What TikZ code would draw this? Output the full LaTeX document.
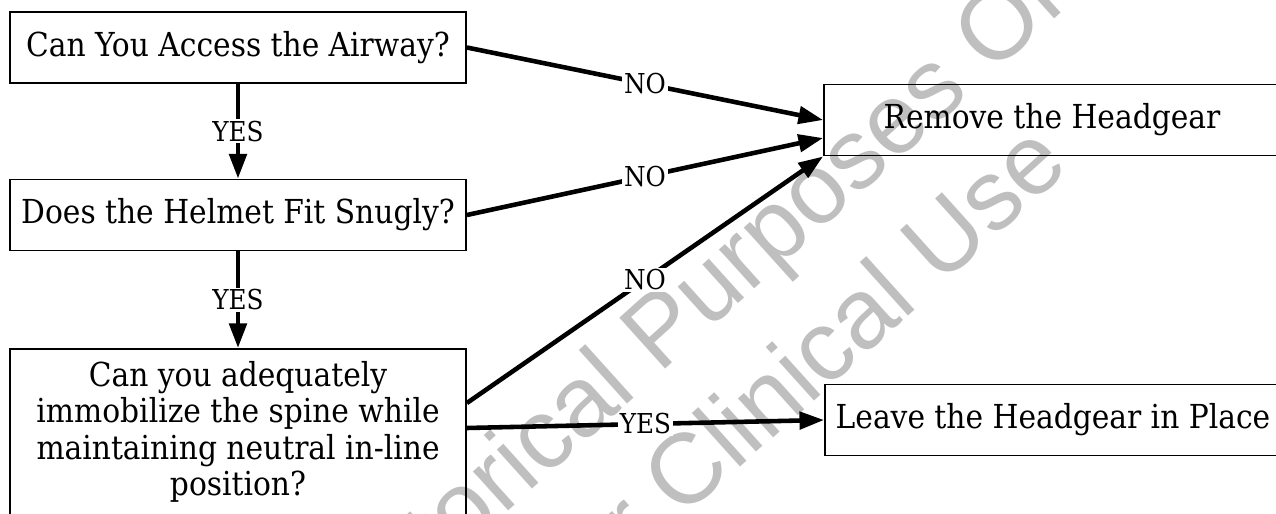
\documentclass[tikz,border=0pt]{standalone}
\usepackage{fontspec}
\setmainfont{DejaVu Serif Condensed}
\newfontfamily\marcafont{Liberation Sans}
\usetikzlibrary{arrows.meta, calc}
\tikzset{
    caja/.style={draw, line width=1.1pt, minimum width=9.12cm, minimum height=1.42cm, inner sep=0pt, font=\fontsize{18.8}{20.8}\selectfont},
    etiqueta/.style={fill=white, inner sep=1pt, font=\fontsize{15.6}{17}\selectfont},
    flecha/.style={line width=2.6pt, -{Triangle[length=14pt, width=9.8pt]}},
    marca/.style={text=black!25, font=\marcafont\fontsize{56.6}{70}\selectfont, rotate=42, align=center, inner sep=0pt},
}

\begin{document}
\begin{tikzpicture}[x=0.02cm, y=-0.02cm]
\useasboundingbox (0,0) rectangle (1276,514);
\clip (0,0) rectangle (1276,514);
% Watermark
\node[marca] (marca) at (691,381) {For Historical Purposes Only\\Not for Clinical Use};
% Questions
\node[caja] (acceso) at (238,47.5) {Can You Access the Airway?};
\node[caja] (casco) at (238,215) {Does the Helmet Fit Snugly?};
\node[caja, anchor=north, inner ysep=6.8pt, align=center] (columna) at (238,348) {Can you adequately\\immobilize the spine while\\maintaining neutral in-line\\position?\rule[-22pt]{0pt}{0pt}};
% Outcomes
\node[caja] (quitar) at (1052,120) {Remove the Headgear};
\node[caja] (dejar) at (1053,420) {Leave the Headgear in Place};
% Arrows
\draw[flecha] (acceso) -- node[etiqueta] {YES} (casco);
\draw[flecha] (casco) -- node[etiqueta] {YES} (columna);
\draw[flecha] (acceso.east) -- node[etiqueta] {NO} (quitar.west);
\draw[flecha] (casco.east) -- node[etiqueta] {NO} ($(quitar.west)+(0,18)$);
\draw[flecha] ($(columna.north east)+(0,55)$) -- node[etiqueta] {NO} (quitar.south west);
\draw[flecha] ($(columna.north east)+(0,80)$) -- node[etiqueta] {YES} (dejar.west);
\end{tikzpicture}
\end{document}
